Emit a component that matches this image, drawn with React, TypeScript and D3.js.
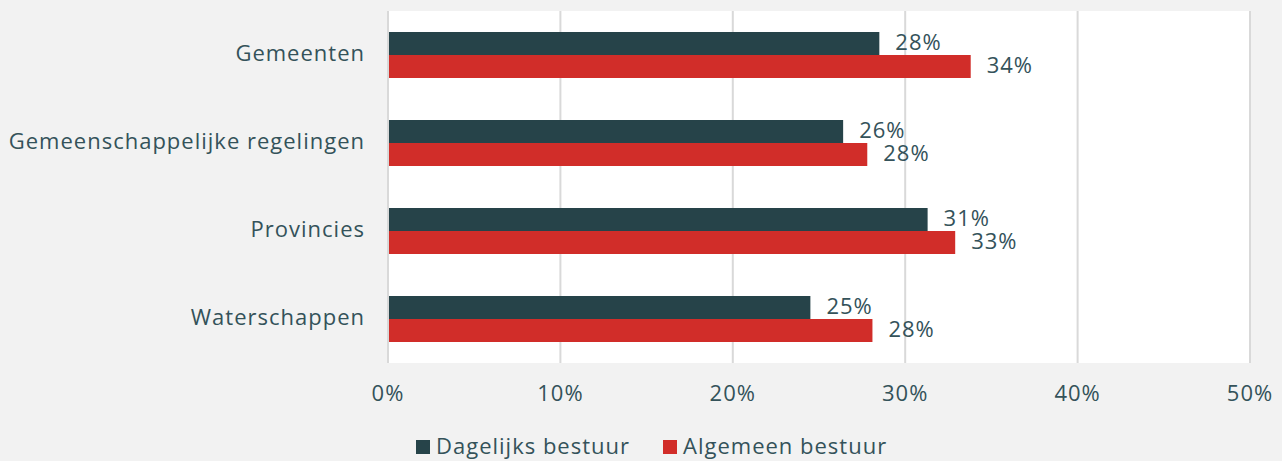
import React from "react";
import * as d3 from "d3";

const categories = ["Gemeenten", "Gemeenschappelijke regelingen", "Provincies", "Waterschappen"];
const seriesNames = ["Dagelijks bestuur", "Algemeen bestuur"];
const dagelijks = [28.5, 26.4, 31.3, 24.5];
const algemeen = [33.8, 27.8, 32.9, 28.1];
const dagelijksLabels = ["28%", "26%", "31%", "25%"];
const algemeenLabels = ["34%", "28%", "33%", "28%"];
const xTicks = [0, 10, 20, 30, 40, 50];
const colors = ["#264349", "#d12d29"];

const W = 1282, H = 461;
const plot = { left: 388, right: 1250, top: 11, bottom: 363 };
const textColor = "#34525a";
const font = "'Open Sans', Lato, sans-serif";
const fs = 22;
const ls = 1.0;

export default function App() {
  const x = d3.scaleLinear().domain([0, 50]).range([plot.left, plot.right]);
  const y = d3.scaleBand<string>().domain(categories).range([plot.top, plot.bottom]);
  const barH = 23;
  const series = [
    { vals: dagelijks, labels: dagelijksLabels },
    { vals: algemeen, labels: algemeenLabels },
  ];
  return (
    <svg width={W} height={H} style={{ position: "absolute", left: 0, top: 0, display: "block" }} fontFamily={font} letterSpacing={ls}>
      <rect x={0} y={0} width={W} height={H} fill="#f2f2f2" />
      <rect x={plot.left} y={plot.top} width={plot.right - plot.left} height={plot.bottom - plot.top} fill="#ffffff" />
      {xTicks.map((t) => (
        <line key={t} x1={x(t)} x2={x(t)} y1={plot.top} y2={plot.bottom} stroke="#d9d9d9" strokeWidth={2} />
      ))}
      {categories.map((c, i) => {
        const cy = (y(c) as number) + y.bandwidth() / 2;
        return (
          <g key={c}>
            {series.map((s, k) => {
              const by = cy - barH + k * barH;
              return (
                <g key={k}>
                  <rect x={x(0) + 1} y={by} width={x(s.vals[i]) - x(0) - 1} height={barH} fill={colors[k]} />
                  <text x={x(s.vals[i]) + 16} y={by + barH / 2 + 1} dominantBaseline="middle" fontSize={fs} fill={textColor}>
                    {s.labels[i]}
                  </text>
                </g>
              );
            })}
            <text x={365} y={cy} textAnchor="end" dominantBaseline="middle" fontSize={fs} fill={textColor}>
              {c}
            </text>
          </g>
        );
      })}
      {xTicks.map((t) => (
        <text key={t} x={x(t)} y={395} textAnchor="middle" dominantBaseline="middle" fontSize={fs} fill={textColor}>
          {t + "%"}
        </text>
      ))}
      {seriesNames.map((n, k) => {
        const lx = k === 0 ? 416 : 663;
        return (
          <g key={n}>
            <rect x={lx} y={440} width={14} height={14} fill={colors[k]} />
            <text x={lx + 20} y={448} dominantBaseline="middle" fontSize={fs} fill={textColor}>
              {n}
            </text>
          </g>
        );
      })}
    </svg>
  );
}
